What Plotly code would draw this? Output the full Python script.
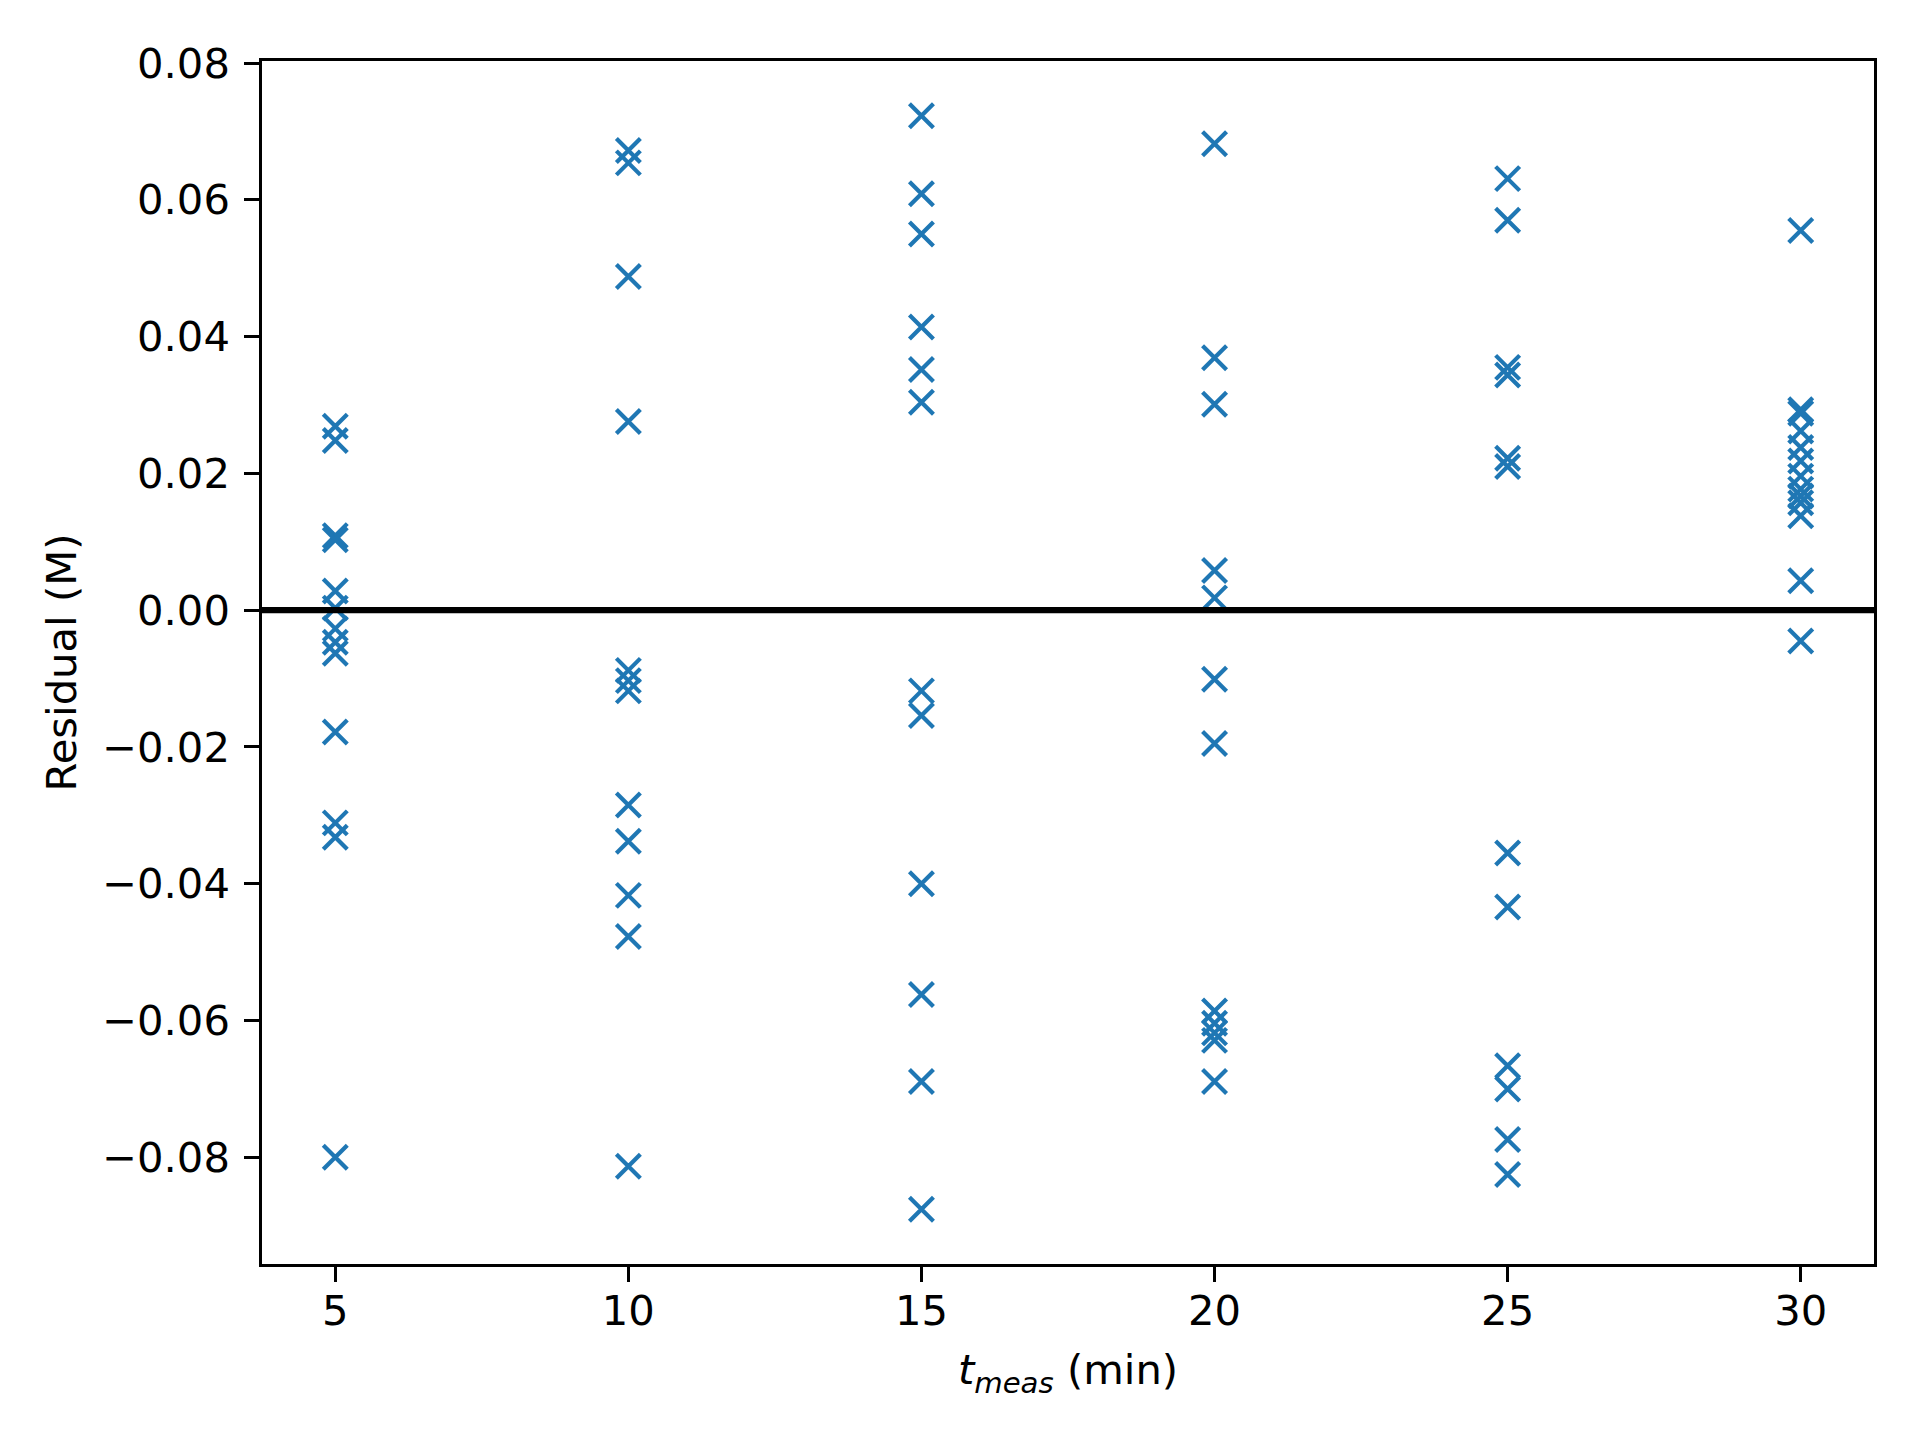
import plotly.graph_objects as go

# Measurement times (min)
t_meas = [5, 10, 15, 20, 25, 30]

res_5 = [0.0269, 0.0248, 0.0109, 0.0103, 0.0028, 0.0003, -0.0027, -0.0047,
         -0.0063, -0.0178, -0.0311, -0.0332, -0.0800]
res_10 = [0.0672, 0.0654, 0.0488, 0.0276, -0.0088, -0.0103, -0.0118, -0.0285,
          -0.0338, -0.0417, -0.0477, -0.0813]
res_15 = [0.0723, 0.0609, 0.0550, 0.0414, 0.0352, 0.0304, -0.0118, -0.0154,
          -0.0400, -0.0562, -0.0689, -0.0876]
res_20 = [0.0682, 0.0369, 0.0301, 0.0058, 0.0018, -0.0101, -0.0195, -0.0586,
          -0.0604, -0.0618, -0.0629, -0.0689]
res_25 = [0.0631, 0.0570, 0.0355, 0.0344, 0.0222, 0.0210, -0.0355, -0.0434,
          -0.0666, -0.0700, -0.0774, -0.0825]
res_30 = [0.0555, 0.0293, 0.0288, 0.0262, 0.0238, 0.0218, 0.0196, 0.0177,
          0.0167, 0.0157, 0.0138, 0.0043, -0.0045]

y_ticks = [-0.08, -0.06, -0.04, -0.02, 0.00, 0.02, 0.04, 0.06, 0.08]
x_ticks = [5, 10, 15, 20, 25, 30]

groups = [res_5, res_10, res_15, res_20, res_25, res_30]
xs, ys = [], []
for t, vals in zip(t_meas, groups):
    xs += [t] * len(vals)
    ys += vals

# matplotlib-like 5% margins
def padded(lo, hi, frac=0.05):
    d = (hi - lo) * frac
    return [lo - d, hi + d]

xr = padded(min(xs), max(xs))
yr = padded(min(ys), max(ys))

def fmt(v):
    s = f"{abs(v):.2f}"
    return ("\u2212" + s) if v < 0 else s

FONT = "DejaVu Sans"
FS = 41.7

fig = go.Figure()
fig.add_trace(go.Scatter(
    x=xs, y=ys, mode="markers",
    marker=dict(symbol="x-thin", size=24, color="#1f77b4",
                line=dict(color="#1f77b4", width=4.2)),
    showlegend=False, cliponaxis=False,
))

fig.add_shape(type="line", xref="paper", yref="y", x0=0, x1=1, y0=0, y1=0,
              line=dict(color="black", width=6.25), layer="above")

# page body adds an 8px margin, so the figure is 16px smaller than the window
fig.update_layout(
    width=1904, height=1424,
    margin=dict(l=254, r=38, t=53, b=168, pad=0),
    paper_bgcolor="white", plot_bgcolor="white",
    font=dict(family=FONT, size=FS, color="black"),
)
fig.update_xaxes(
    range=xr, tickvals=x_ticks, ticktext=[str(v) for v in x_ticks],
    showgrid=False, zeroline=False,
    showline=True, linecolor="black", linewidth=3.3, mirror=True,
    ticks="outside", ticklen=14.6, tickwidth=3.3, tickcolor="black",
    ticklabelstandoff=-7,
    title=dict(text="<i>t</i><sub><i>meas</i></sub> (min)", standoff=22,
               font=dict(family=FONT, size=FS)),
)
fig.update_yaxes(
    range=yr, tickvals=y_ticks, ticktext=[fmt(v) for v in y_ticks],
    showgrid=False, zeroline=False,
    showline=True, linecolor="black", linewidth=3.3, mirror=True,
    ticks="outside", ticklen=14.6, tickwidth=3.3, tickcolor="black",
    ticklabelstandoff=6,
    title=dict(text="Residual (M)", standoff=13,
               font=dict(family=FONT, size=FS)),
)

fig.write_html("out.html")
